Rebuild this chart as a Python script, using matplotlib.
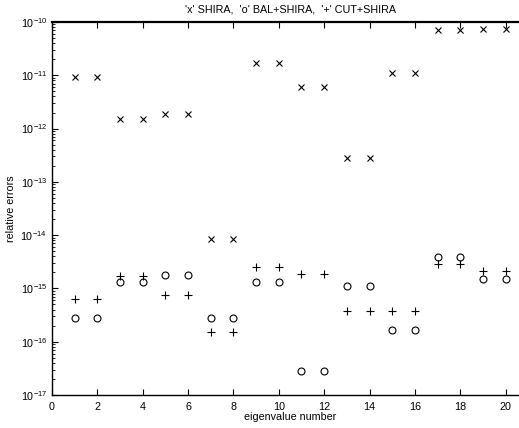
import numpy as np
import matplotlib
matplotlib.use("Agg")
import matplotlib.pyplot as plt
from matplotlib.ticker import LogLocator, NullFormatter, FixedLocator

plt.rcParams['font.family'] = ['Liberation Sans', 'DejaVu Sans']

idx = list(range(1, 21))
shira = [9.2e-12, 9.2e-12, 1.5e-12, 1.5e-12, 1.9e-12, 1.9e-12, 8.6e-15, 8.6e-15,
         1.7e-11, 1.7e-11, 6.0e-12, 6.0e-12, 2.8e-13, 2.8e-13, 1.1e-11, 1.1e-11,
         7.0e-11, 7.0e-11, 7.5e-11, 7.5e-11]
bal = [2.8e-16, 2.8e-16, 1.3e-15, 1.3e-15, 1.8e-15, 1.8e-15, 2.8e-16, 2.8e-16,
       1.3e-15, 1.3e-15, 2.8e-17, 2.8e-17, 1.13e-15, 1.13e-15, 1.64e-16, 1.64e-16,
       3.95e-15, 3.95e-15, 1.53e-15, 1.53e-15]
cut = [6.4e-16, 6.4e-16, 1.72e-15, 1.72e-15, 7.5e-16, 7.5e-16, 1.55e-16, 1.55e-16,
       2.5e-15, 2.5e-15, 1.87e-15, 1.87e-15, 3.7e-16, 3.7e-16, 3.8e-16, 3.8e-16,
       2.88e-15, 2.88e-15, 2.1e-15, 2.1e-15]

W, H = 519, 428
fig = plt.figure(figsize=(W/100, H/100), dpi=100)
ax = fig.add_axes([52/W, 33/H, 476.3/W, 373/H])

ax.semilogy(idx, shira, 'kx', markersize=4, markeredgewidth=0.8)
ax.semilogy(idx, bal, 'ko', markersize=5, markerfacecolor='none', markeredgewidth=0.8)
ax.semilogy(idx, cut, 'k+', markersize=5.5, markeredgewidth=0.8)

ax.set_xlim(0, 21)
ax.set_ylim(1e-17, 1e-10)
ax.xaxis.set_major_locator(FixedLocator(list(range(0, 21, 2))))
ax.yaxis.set_major_locator(LogLocator(base=10, numticks=20))
ax.yaxis.set_minor_locator(LogLocator(base=10, subs=np.arange(2, 10), numticks=20))
ax.yaxis.set_minor_formatter(NullFormatter())
ax.tick_params(which='both', direction='in', top=True, right=True, labelsize=7.75)
ax.tick_params(axis='x', pad=5)
ax.tick_params(which='major', length=4, width=0.8)
ax.tick_params(which='minor', length=2, width=0.6)
for s in ax.spines.values():
    s.set_linewidth(1.0)
ax.spines['top'].set_linewidth(1.6)
ax.spines['right'].set_visible(False)

ax.set_title("'x' SHIRA,  'o' BAL+SHIRA,  '+' CUT+SHIRA", fontsize=7.75, pad=7)
ax.set_xlabel('eigenvalue number', fontsize=7.75, labelpad=0)
ax.set_ylabel('relative errors', fontsize=7.75, labelpad=3)

fig.savefig('out.png', dpi=100)
